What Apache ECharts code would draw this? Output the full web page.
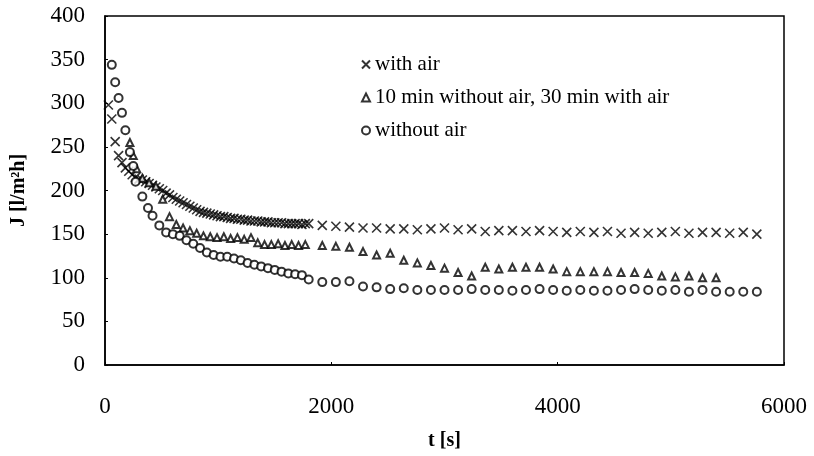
<!DOCTYPE html>
<html>
<head>
<meta charset="utf-8">
<script src="https://cdn.jsdelivr.net/npm/echarts@6/dist/echarts.min.js"></script>
<style>
html,body{margin:0;padding:0;background:#fff;}
#c{width:814px;height:456px;}
</style>
</head>
<body>
<div id="c"></div>
<script>
// t [s] and J [l/m2h]
const tAir = [30,60,90,120,150,180,210,240,270,300,330,360,390,420,450,480,510,540,570,600,
  630,660,690,720,750,780,810,840,870,900,930,960,990,1020,1050,1080,1110,1140,1170,1200,
  1230,1260,1290,1320,1350,1380,1410,1440,1470,1500,1530,1560,1590,1620,1650,1680,1710,1740,1770,1800,
  1920,2040,2160,2280,2400,2520,2640,2760,2880,3000,3120,3240,3360,3480,3600,3720,3840,3960,
  4080,4200,4320,4440,4560,4680,4800,4920,5040,5160,5280,5400,5520,5640,5760];
const jAir = [298,282,256,240,232,226,222,218,215,213,212,210,208,206,204,202,200,197,195,192,
  190,188,186,184,182,180,178,176,175,174,173,172,171,170,170,169,168,168,167,167,
  166,166,165,165,165,164,164,164,163,163,163,163,162,162,162,162,162,161,162,162,
  160,159,158,157,157,156,156,155,156,157,155,156,153,154,154,153,154,153,
  152,153,152,153,151,152,151,152,153,151,152,152,151,152,150];

const tMix = [220,250,280,330,390,450,510,570,630,690,750,810,870,930,990,1050,1110,1170,1230,1290,
  1350,1410,1470,1530,1590,1650,1710,1770,
  1920,2040,2160,2280,2400,2520,2640,2760,2880,3000,3120,3240,3360,3480,3600,3720,3840,3960,
  4080,4200,4320,4440,4560,4680,4800,4920,5040,5160,5280,5400];
const jMix = [255,240,225,214,209,205,190,170,161,157,154,151,148,147,146,147,145,146,144,146,
  140,138,138,139,137,138,137,138,
  137,136,135,130,126,128,120,117,114,111,106,102,112,110,112,112,112,110,
  107,107,107,107,106,106,105,102,101,102,100,100];

const tNo = [60,90,120,150,180,220,250,270,330,380,420,480,540,600,660,720,780,840,900,960,
  1020,1080,1140,1200,1260,1320,1380,1440,1500,1560,1620,1680,1740,1800,
  1920,2040,2160,2280,2400,2520,2640,2760,2880,3000,3120,3240,3360,3480,3600,3720,3840,3960,
  4080,4200,4320,4440,4560,4680,4800,4920,5040,5160,5280,5400,5520,5640,5760];
const jNo = [344,324,306,289,269,244,228,210,193,180,171,160,152,150,148,143,139,134,129,126,
  124,124,122,120,117,115,113,111,109,107,105,104,103,98,
  95,95,96,90,89,87,88,86,86,86,86,87,86,86,85,86,87,86,
  85,86,85,85,86,87,86,85,86,84,86,84,84,84,84];

const seriesNames = ['with air','10 min without air, 30 min with air','without air'];
const xTicks = [0,2000,4000,6000];
const yTicks = [0,50,100,150,200,250,300,350,400];

function pairs(t,j){ return t.map((v,i)=>[v,j[i]]); }

const chart = echarts.init(document.getElementById('c'), null, {renderer:'canvas'});
const serif = '"Liberation Serif","DejaVu Serif",serif';
chart.setOption({
  backgroundColor:'#fff',
  animation:false,
  grid:{left:105,right:30,top:16,bottom:90,show:true,borderColor:'#000',borderWidth:1.5,backgroundColor:'transparent'},
  legend:{
    orient:'vertical',left:356,top:49,itemGap:12,itemWidth:8,itemHeight:8,
    textStyle:{fontFamily:serif,fontSize:21,color:'#000'},
    data:seriesNames
  },
  xAxis:{
    type:'value',min:xTicks[0],max:xTicks[xTicks.length-1],interval:2000,
    name:'t [s]',nameLocation:'middle',nameGap:66,
    nameTextStyle:{fontFamily:serif,fontSize:20,fontWeight:'bold',color:'#000'},
    axisLine:{show:true,lineStyle:{color:'#000',width:1.5}},
    axisTick:{show:true,inside:true,length:3,lineStyle:{color:'#000'}},
    axisLabel:{fontFamily:serif,fontSize:23,color:'#000',margin:30,formatter:function(v){return String(v);}},
    splitLine:{show:false}
  },
  yAxis:{
    type:'value',min:yTicks[0],max:yTicks[yTicks.length-1],interval:50,
    name:'J [l/m\u00B2h]',nameLocation:'middle',nameGap:76,
    nameTextStyle:{fontFamily:serif,fontSize:20,fontWeight:'bold',color:'#000'},
    axisLine:{show:true,lineStyle:{color:'#000',width:1.5}},
    axisTick:{show:true,inside:true,length:3,lineStyle:{color:'#000'}},
    axisLabel:{fontFamily:serif,fontSize:23,color:'#000',margin:20,formatter:function(v){return String(v);}},
    splitLine:{show:false}
  },
  series:[
    {name:seriesNames[0],type:'scatter',data:pairs(tAir,jAir),
     symbol:'path://M0,0L10,10M10,0L0,10',symbolSize:9,
     itemStyle:{color:'transparent',borderColor:'#000',borderWidth:1.6}},
    {name:seriesNames[1],type:'scatter',data:pairs(tMix,jMix),
     symbol:'triangle',symbolSize:7,
     itemStyle:{color:'#fff',borderColor:'#000',borderWidth:2}},
    {name:seriesNames[2],type:'scatter',data:pairs(tNo,jNo),
     symbol:'circle',symbolSize:8,
     itemStyle:{color:'#fff',borderColor:'#000',borderWidth:2}}
  ]
});
</script>
</body>
</html>
